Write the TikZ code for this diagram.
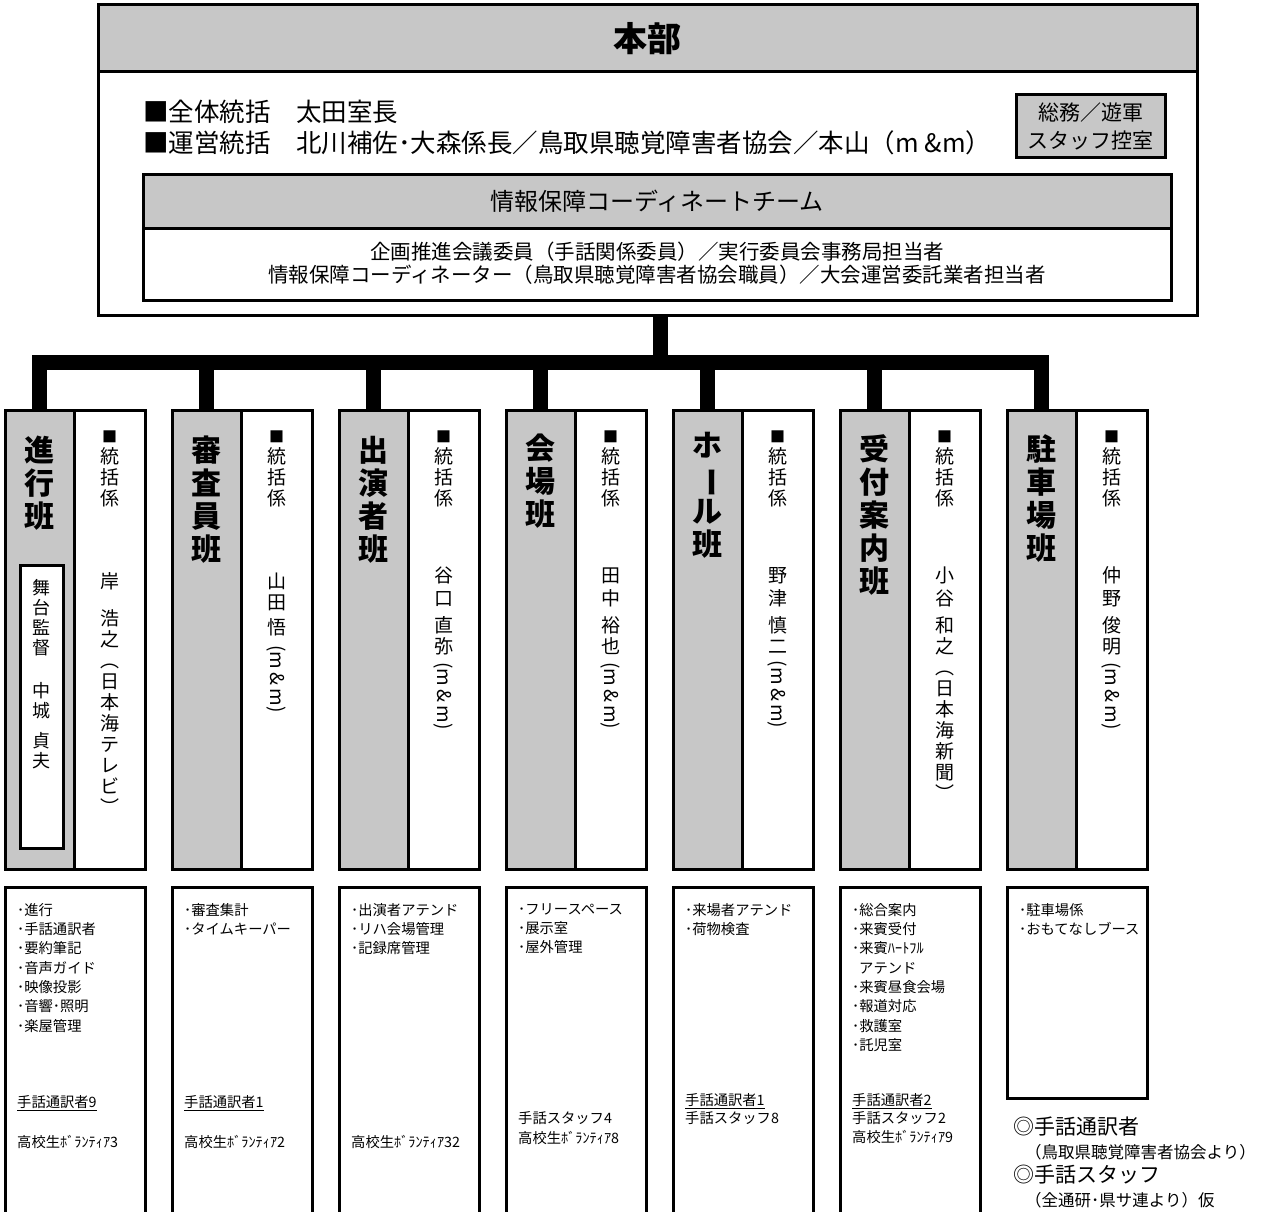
\documentclass[tikz,border=0pt]{standalone}
\usepackage{fontspec}
\setmainfont{Noto Sans CJK JP}
\usetikzlibrary{positioning}
\newcommand{\mandm}{\rotatebox[origin=c]{-90}{(m\,\&\,m)}}
\newcommand{\vbar}{\rotatebox[origin=c]{-90}{ー}}
\newcommand{\sq}{{\fontsize{15}{15}\selectfont ■}}
\begin{document}
\begin{tikzpicture}[x=1pt,y=-1pt,
  frame/.style={draw,line width=3pt,inner sep=0pt,outer sep=0pt},
  band/.style={frame,fill=black!22},
  gcol/.style={band,minimum width=69pt,minimum height=459pt,anchor=north},
  wcol/.style={frame,fill=white,minimum width=71pt,minimum height=459pt},
  gname/.style={font=\fontsize{30}{33}\selectfont\bfseries,align=center,inner sep=0pt},
  wname/.style={font=\fontsize{19}{21}\selectfont,align=center,inner sep=0pt},
  task/.style={frame,fill=white,minimum width=140pt,minimum height=330pt},
  tasktxt/.style={font=\fontsize{14.3}{19.3}\selectfont,align=left,inner sep=0pt},
  bus/.style={line width=15pt}]
\useasboundingbox (0,0) rectangle (1272,1212);
\clip (0,0) rectangle (1272,1212);
% headquarters
\node[frame,fill=white,minimum width=1099pt,minimum height=310pt,anchor=north west] (hq) at (98,5) {};
\node[band,minimum width=1099pt,minimum height=67pt,below=0pt of hq.north,font=\fontsize{34}{34}\selectfont\bfseries] (hqh) {本部};
\node[anchor=west,align=left,inner sep=0pt,font=\fontsize{25.5}{31}\selectfont] (hqt) at (143,127.5)
  {■全体統括　太田室長\\■運営統括　北川補佐･大森係長／鳥取県聴覚障害者協会／本山（m \&m）};
\node[band,minimum width=149pt,minimum height=63pt,anchor=north west,align=center,font=\fontsize{21}{28}\selectfont] (staff) at (1016,95) {総務／遊軍\\スタッフ控室};
\node[frame,fill=white,minimum width=1028pt,minimum height=125pt,anchor=north west] (team) at (143,175) {};
\node[band,minimum width=1028pt,minimum height=53pt,below=0pt of team.north,font=\fontsize{24}{24}\selectfont] (teamh) {情報保障コーディネートチーム};
\node[align=center,inner sep=0pt,font=\fontsize{20.5}{23}\selectfont,below=14pt of teamh.south] (teamt)
  {企画推進会議委員（手話関係委員）／実行委員会事務局担当者\\情報保障コーディネーター（鳥取県聴覚障害者協会職員）／大会運営委託業者担当者};
% groups
\node[gcol] (g1) at (39.5,410) {};   \node[wcol,right=0pt of g1] (w1) {};
\node[gcol] (g2) at (206.5,410) {};  \node[wcol,right=0pt of g2] (w2) {};
\node[gcol] (g3) at (373.5,410) {};  \node[wcol,right=0pt of g3] (w3) {};
\node[gcol] (g4) at (540.5,410) {};  \node[wcol,right=0pt of g4] (w4) {};
\node[gcol] (g5) at (707.5,410) {};  \node[wcol,right=0pt of g5] (w5) {};
\node[gcol] (g6) at (874.5,410) {};  \node[wcol,right=0pt of g6] (w6) {};
\node[gcol] (g7) at (1041.5,410) {}; \node[wcol,right=0pt of g7] (w7) {};
\node[gname,below=26pt of g1.north] (g1n) {進\\行\\班};
\node[gname,below=26pt of g2.north] (g2n) {審\\査\\員\\班};
\node[gname,below=26pt of g3.north] (g3n) {出\\演\\者\\班};
\node[gname,below=24pt of g4.north] (g4n) {会\\場\\班};
\node[gname,below=22pt of g5.north] (g5n) {ホ\\\vbar\\ル\\班};
\node[gname,below=24pt of g6.north] (g6n) {受\\付\\案\\内\\班};
\node[gname,below=24pt of g7.north] (g7n) {駐\\車\\場\\班};
\node[frame,fill=white,minimum width=43pt,minimum height=283pt,below=155pt of g1.north,xshift=2pt] (g1b) {};
\node[wname,font=\fontsize{18}{20}\selectfont,below=14pt of g1b.north] (g1bt) {舞\\台\\監\\督\\[23pt]中\\城\\[10pt]貞\\夫};
\node[wname,below=21pt of w1.north] (w1n) {\sq\\統\\括\\係\\[62pt]岸\\[16pt]浩\\之\\︵\\日\\本\\海\\テ\\レ\\ビ\\︶};
\node[wname,below=21pt of w2.north] (w2n) {\sq\\統\\括\\係\\[62pt]山\\田\\[4pt]悟\\[8pt]\mandm};
\node[wname,below=21pt of w3.north] (w3n) {\sq\\統\\括\\係\\[56pt]谷\\[2pt]口\\[6pt]直\\弥\\[6pt]\mandm};
\node[wname,below=21pt of w4.north] (w4n) {\sq\\統\\括\\係\\[56pt]田\\[2pt]中\\[6pt]裕\\也\\[6pt]\mandm};
\node[wname,below=21pt of w5.north] (w5n) {\sq\\統\\括\\係\\[56pt]野\\[2pt]津\\[6pt]慎\\二\\[6pt]\mandm};
\node[wname,below=21pt of w6.north] (w6n) {\sq\\統\\括\\係\\[56pt]小\\[2pt]谷\\[6pt]和\\之\\︵\\日\\本\\海\\新\\聞\\︶};
\node[wname,below=21pt of w7.north] (w7n) {\sq\\統\\括\\係\\[56pt]仲\\[2pt]野\\[6pt]俊\\明\\[6pt]\mandm};
% bus
\coordinate (bus) at (660,362);
\draw[bus] (bus |- hq.south) -- (bus);
\draw[bus] (g1.north) -- (g1.north |- bus) -- (g7.north |- bus) -- (g7.north);
\draw[bus] (g2.north) -- (g2.north |- bus);
\draw[bus] (g3.north) -- (g3.north |- bus);
\draw[bus] (g4.north) -- (g4.north |- bus);
\draw[bus] (g5.north) -- (g5.north |- bus);
\draw[bus] (g6.north) -- (g6.north |- bus);
% tasks
\node[task,below=18pt of g1.south west,anchor=north west] (t1) {};
\node[task,below=18pt of g2.south west,anchor=north west] (t2) {};
\node[task,below=18pt of g3.south west,anchor=north west] (t3) {};
\node[task,below=18pt of g4.south west,anchor=north west] (t4) {};
\node[task,below=18pt of g5.south west,anchor=north west] (t5) {};
\node[task,below=18pt of g6.south west,anchor=north west] (t6) {};
\node[task,minimum height=211pt,below=18pt of g7.south west,anchor=north west] (t7) {};
\node[tasktxt,below right=16pt and 12pt of t1.north west] (t1a) {･進行\\･手話通訳者\\･要約筆記\\･音声ガイド\\･映像投影\\･音響･照明\\･楽屋管理};
\node[tasktxt,below right=16pt and 12pt of t2.north west] (t2a) {･審査集計\\･タイムキーパー};
\node[tasktxt,below right=16pt and 12pt of t3.north west] (t3a) {･出演者アテンド\\･リハ会場管理\\･記録席管理};
\node[tasktxt,below right=16pt and 12pt of t4.north west] (t4a) {･フリースペース\\･展示室\\･屋外管理};
\node[tasktxt,below right=16pt and 12pt of t5.north west] (t5a) {･来場者アテンド\\･荷物検査};
\node[tasktxt,below right=16pt and 12pt of t6.north west] (t6a) {･総合案内\\･来賓受付\\･来賓ﾊｰﾄﾌﾙ\\\hspace*{7pt}アテンド\\･来賓昼食会場\\･報道対応\\･救護室\\･託児室};
\node[tasktxt,below right=16pt and 12pt of t7.north west] (t7a) {･駐車場係\\･おもてなしブース};
\node[tasktxt,below right=208pt and 12pt of t1.north west] (t1b) {\underline{手話通訳者9}\\[20.7pt]高校生ﾎﾞﾗﾝﾃｨｱ3};
\node[tasktxt,below right=208pt and 12pt of t2.north west] (t2b) {\underline{手話通訳者1}\\[20.7pt]高校生ﾎﾞﾗﾝﾃｨｱ2};
\node[tasktxt,below right=248pt and 12pt of t3.north west] (t3b) {高校生ﾎﾞﾗﾝﾃｨｱ32};
\node[tasktxt,below right=224pt and 12pt of t4.north west] (t4b) {手話スタッフ4\\[0.7pt]高校生ﾎﾞﾗﾝﾃｨｱ8};
\node[tasktxt,below right=206pt and 12pt of t5.north west] (t5b) {\underline{手話通訳者1}\\[-1pt]手話スタッフ8};
\node[tasktxt,below right=206pt and 12pt of t6.north west] (t6b) {\underline{手話通訳者2}\\[-1pt]手話スタッフ2\\高校生ﾎﾞﾗﾝﾃｨｱ9};
% note
\node[anchor=north west,align=left,inner sep=0pt,font=\fontsize{21}{24}\selectfont] (note) at (1013,1117)
  {◎手話通訳者\\{\fontsize{16.5}{24}\selectfont\hspace*{12pt}（鳥取県聴覚障害者協会より）}\\◎手話スタッフ\\{\fontsize{16.5}{24}\selectfont\hspace*{12pt}（全通研･県サ連より）仮}};
\end{tikzpicture}
\end{document}
